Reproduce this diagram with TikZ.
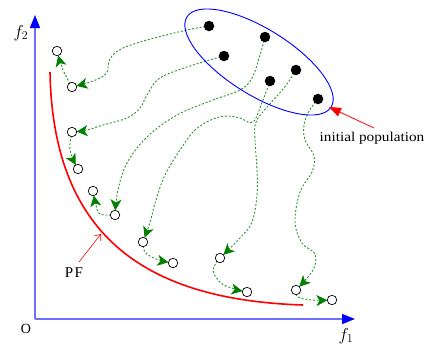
\documentclass[tikz,border=0pt]{standalone}
\usepackage{fontspec}
\setmainfont{Liberation Serif}
\usetikzlibrary{arrows.meta,backgrounds}
\definecolor{dashgreen}{RGB}{45,145,45}
\definecolor{arrgreen}{RGB}{0,128,0}
\definecolor{axisblue}{RGB}{110,110,255}
\begin{document}
\begin{tikzpicture}[x=1pt,y=-1pt,
  dot/.style={circle,fill=black,inner sep=0pt,minimum size=10.5pt},
  sol/.style={circle,draw=black,fill=white,line width=0.7pt,inner sep=0pt,minimum size=9.5pt},
  move/.style={dashgreen,line width=0.9pt,dash pattern=on 2pt off 1.8pt,shorten >=4.6pt,
    -{Stealth[length=11pt,width=11pt,inset=3pt,color=arrgreen]}},
  axis/.style={axisblue,line width=1.3pt,-{Triangle[length=13pt,width=10pt,color=blue]}},
  lbl/.style={inner sep=0pt}]
\useasboundingbox (0,0) rectangle (427,349);

% axes
\coordinate (O) at (35,319);
\coordinate (ytip) at (35,15);
\coordinate (xtip) at (355,319);
\draw[axis] (O) -- (ytip);
\draw[axis] (O) -- (xtip);
\node[lbl,font=\fontsize{17}{17}\selectfont] (f2) at (21,33) {$f_2$};
\node[lbl,font=\fontsize{17}{17}\selectfont] (f1) at (346,336) {$f_1$};
\node[lbl,font=\fontsize{14}{14}\selectfont] (o) at (26,329) {O};

% Pareto front
\coordinate (pfa) at (50,72);
\coordinate (pfb) at (303,305);
\draw[red,line width=1.6pt] (pfa) .. controls (53,240) and (150,300) .. (pfb);
\node[lbl,font=\fontsize{15}{15}\selectfont] (pf) at (74,273) {P\kern1.5pt F};
\coordinate (pfs) at (79,262);
\coordinate (pft) at (101,234);
\draw[red,line width=0.6pt,-{Straight Barb[length=5pt,width=8pt]}] (pfs) -- (pft);

% initial population ellipse
\draw[blue,line width=0.9pt,rotate around={-32:(259,62)}] (259,62) ellipse [x radius=85pt,y radius=33pt];
\node[lbl,font=\fontsize{13.5}{13.5}\selectfont,xscale=1.13] (ip) at (372,138) {initial population};
\coordinate (ips) at (374,128);
\coordinate (ipt) at (329,107);
\draw[red,line width=0.8pt,-{Triangle[length=12pt,width=9pt]}] (ips) -- (ipt);

% initial population
\node[dot] (d1) at (209,26) {};
\node[dot] (d2) at (265,37) {};
\node[dot] (d3) at (224,56) {};
\node[dot] (d4) at (296,70) {};
\node[dot] (d5) at (270,81) {};
\node[dot] (d6) at (318,99) {};

% solutions
\node[sol] (a1) at (57,51) {};
\node[sol] (a2) at (72,87) {};
\node[sol] (a3) at (72,132) {};
\node[sol] (a4) at (78,169) {};
\node[sol] (a5) at (93,191) {};
\node[sol] (a6) at (115,215) {};
\node[sol] (a7) at (143,242) {};
\node[sol] (a8) at (173,263) {};
\node[sol] (a9) at (220,258) {};
\node[sol] (a10) at (247,292) {};
\node[sol] (a11) at (296,290) {};
\node[sol] (a12) at (332,300) {};

\begin{scope}[on background layer]
\draw[move] plot[smooth,tension=0.6] coordinates {(d1) (187,30) (147,40) (121,49) (110,59) (107,72) (100,78) (87,83) (a2)};
\draw[move] plot[smooth,tension=0.6] coordinates {(d3) (193,65) (160,78) (147,95) (140,108) (127,118) (103,125) (87,130) (a3)};
\draw[move] plot[smooth,tension=0.6] coordinates {(d2) (260,55) (252,78) (240,90) (213,100) (177,115) (147,137) (127,163) (118,190) (a6)};
\draw[move] plot[smooth,tension=0.6] coordinates {(d5) (263,100) (253,122) (240,118) (228,116) (213,119) (195,130) (180,150) (165,175) (156,200) (150,222) (a7)};
\draw[move] plot[smooth,tension=0.6] coordinates {(d4) (284,88) (268,106) (256,122) (255,140) (257,170) (257,195) (252,222) (240,238) (a9)};
\draw[move] plot[smooth,tension=0.6] coordinates {(d6) (309,111) (304,125) (305,140) (314,156) (312,172) (300,192) (295,222) (302,243) (315,254) (313,270) (a11)};
% local moves
\draw[move] plot[smooth,tension=0.6] coordinates {(a2) (63,70) (a1)};
\draw[move] plot[smooth,tension=0.6] coordinates {(a3) (70,150) (a4)};
\draw[move] plot[smooth,tension=0.6] coordinates {(a6) (100,214) (96,205) (a5)};
\draw[move] plot[smooth,tension=0.6] coordinates {(a7) (145,252) (156,259) (a8)};
\draw[move] plot[smooth,tension=0.6] coordinates {(a9) (213,270) (221,283) (235,289) (a10)};
\draw[move] plot[smooth,tension=0.6] coordinates {(a11) (298,297) (312,300) (a12)};
\end{scope}
\end{tikzpicture}
\end{document}
